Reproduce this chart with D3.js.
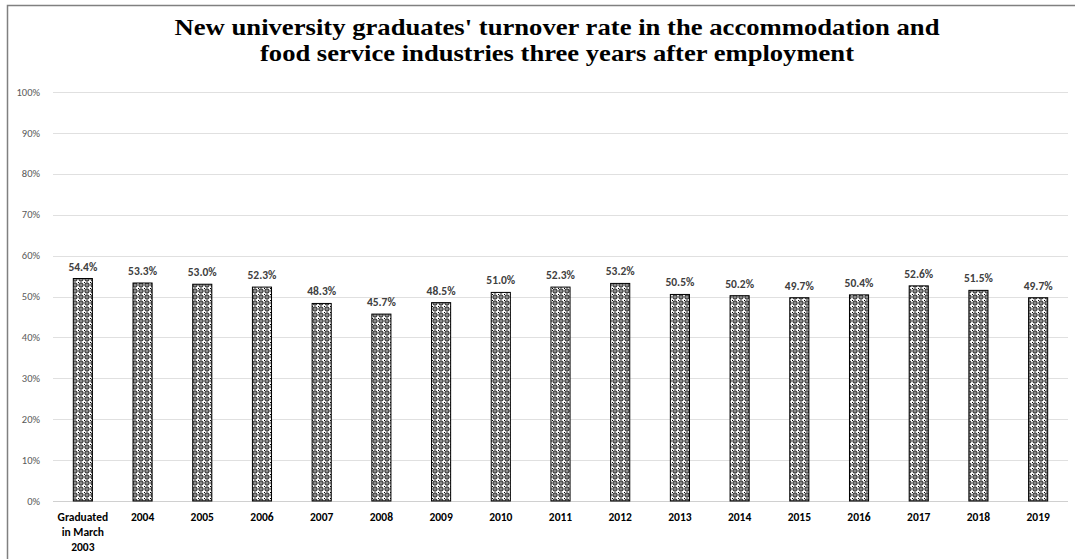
<!DOCTYPE html>
<html>
<head>
<meta charset="utf-8">
<script src="https://cdn.jsdelivr.net/npm/d3@7"></script>
<style>
  body { margin: 0; background: #fff; }
  svg { display: block; }
</style>
</head>
<body>
<div id="chart"></div>
<script>
const categories = ["Graduated in March 2003", "2004", "2005", "2006", "2007", "2008", "2009", "2010",
  "2011", "2012", "2013", "2014", "2015", "2016", "2017", "2018", "2019"];
const rates = [54.4, 53.3, 53.0, 52.3, 48.3, 45.7, 48.5, 51.0, 52.3, 53.2, 50.5, 50.2, 49.7, 50.4, 52.6, 51.5, 49.7];
const yTicks = [0, 10, 20, 30, 40, 50, 60, 70, 80, 90, 100];
const titleLines = ["New university graduates' turnover rate in the accommodation and",
  "food service industries three years after employment"];

const width = 1075, height = 559;
const margin = { top: 92, right: 7, bottom: 58, left: 53 };
const sans = "Calibri, Carlito, 'Liberation Sans', Arial, sans-serif";

const svg = d3.select("#chart").append("svg")
    .attr("width", width)
    .attr("height", height);

// bar fill pattern
const defs = svg.append("defs");
const pat = defs.append("pattern")
    .attr("id", "dots")
    .attr("patternUnits", "userSpaceOnUse")
    .attr("width", 6)
    .attr("height", 6);
pat.append("rect").attr("width", 6).attr("height", 6).attr("fill", "#fff");
pat.append("circle").attr("cx", 3).attr("cy", 3).attr("r", 2.2)
    .attr("fill", "#8c8c8c").attr("stroke", "#111").attr("stroke-width", 0.9);
pat.append("rect").attr("x", 0).attr("y", 0).attr("width", 1).attr("height", 1).attr("fill", "#000");

// outer frame
svg.append("path")
    .attr("d", `M7.5,${height} V5.5 H${width}`)
    .attr("fill", "none")
    .attr("stroke", "#808080")
    .attr("stroke-width", 1.5);

const x = d3.scaleBand()
    .domain(categories)
    .range([margin.left, width - margin.right])
    .paddingInner(0.68)
    .paddingOuter(0.34);

const y = d3.scaleLinear()
    .domain([0, 100])
    .range([height - margin.bottom, margin.top]);

// gridlines
svg.append("g")
    .selectAll("line")
    .data(yTicks)
    .join("line")
    .attr("x1", margin.left)
    .attr("x2", width - margin.right)
    .attr("y1", d => Math.round(y(d)) + 0.5)
    .attr("y2", d => Math.round(y(d)) + 0.5)
    .attr("stroke", d => d === 0 ? "#d0d0d0" : "#e0e0e0")
    .attr("stroke-width", 1);

// y labels
svg.append("g")
    .selectAll("text")
    .data(yTicks)
    .join("text")
    .attr("x", 40)
    .attr("y", d => y(d))
    .attr("dy", "0.35em")
    .attr("text-anchor", "end")
    .attr("font-family", sans)
    .attr("font-size", 10.5)
    .attr("fill", "#595959")
    .text(d => d + "%");

// bars
svg.append("g")
    .selectAll("rect")
    .data(rates)
    .join("rect")
    .attr("x", (d, i) => x(categories[i]))
    .attr("y", d => y(d))
    .attr("width", x.bandwidth())
    .attr("height", d => y(0) - y(d))
    .attr("fill", "url(#dots)")
    .attr("stroke", "#000")
    .attr("stroke-width", 1);

// value labels
svg.append("g")
    .selectAll("text")
    .data(rates)
    .join("text")
    .attr("x", (d, i) => x(categories[i]) + x.bandwidth() / 2)
    .attr("y", d => y(d) - 8)
    .attr("text-anchor", "middle")
    .attr("font-family", sans)
    .attr("font-size", 11.5)
    .attr("font-weight", "bold")
    .attr("fill", "#404040")
    .text(d => d.toFixed(1) + "%");

// x labels
const xl = svg.append("g")
    .selectAll("text")
    .data(categories)
    .join("text")
    .attr("x", d => x(d) + x.bandwidth() / 2)
    .attr("y", y(0) + 20)
    .attr("text-anchor", "middle")
    .attr("font-family", sans)
    .attr("font-size", 11.5)
    .attr("font-weight", "bold")
    .attr("fill", "#000");
xl.each(function(d) {
  const lines = d === categories[0] ? ["Graduated", "in March", "2003"] : [d];
  d3.select(this).selectAll("tspan")
    .data(lines)
    .join("tspan")
    .attr("x", x(d) + x.bandwidth() / 2)
    .attr("dy", (l, i) => i === 0 ? 0 : 15)
    .text(l => l);
});

// title, two separate lines stretched to the reference width
const titleWidths = [765, 594];
svg.append("g")
    .selectAll("text")
    .data(titleLines)
    .join("text")
    .attr("x", 557)
    .attr("y", (d, i) => 35 + i * 25.5)
    .attr("text-anchor", "middle")
    .attr("font-family", "'Liberation Serif', 'Times New Roman', serif")
    .attr("font-size", 22.5)
    .attr("font-weight", "bold")
    .attr("fill", "#000")
    .attr("textLength", (d, i) => titleWidths[i])
    .attr("lengthAdjust", "spacingAndGlyphs")
    .text(d => d);
</script>
</body>
</html>
